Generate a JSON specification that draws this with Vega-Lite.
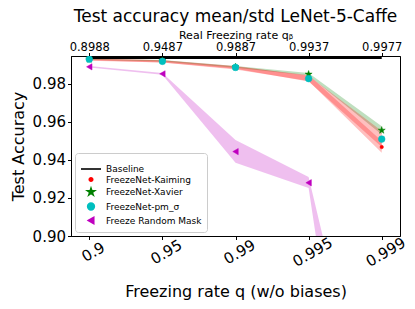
{
  "$schema": "https://vega.github.io/schema/vega-lite/v6.json",
  "width": 329,
  "height": 180,
  "autosize": {"type": "none"},
  "padding": {"left": 71, "top": 56, "right": 15, "bottom": 73},
  "background": "white",
  "title": {"text": "Test accuracy mean/std LeNet-5-Caffe", "fontSize": 17, "fontWeight": "normal", "font": "DejaVu Sans", "color": "black", "offset": 3, "anchor": "middle"},
  "config": {
    "font": "DejaVu Sans",
    "view": {"stroke": "black", "strokeWidth": 1},
    "axis": {"domainColor": "black", "tickColor": "black", "labelColor": "black", "titleColor": "black", "grid": false, "tickSize": 3.5, "titleFontWeight": "normal"},
    "legend": {"labelFont": "DejaVu Sans"}
  },
  "data": {"values": [
    {"series": "Baseline", "q": "0.9", "mean": 0.9937, "lo": 0.9937, "hi": 0.9937},
    {"series": "Baseline", "q": "0.95", "mean": 0.9937, "lo": 0.9937, "hi": 0.9937},
    {"series": "Baseline", "q": "0.99", "mean": 0.9937, "lo": 0.9937, "hi": 0.9937},
    {"series": "Baseline", "q": "0.995", "mean": 0.9937, "lo": 0.9937, "hi": 0.9937},
    {"series": "Baseline", "q": "0.999", "mean": 0.9937, "lo": 0.9937, "hi": 0.9937},
    {"series": "FreezeNet-Kaiming", "q": "0.9", "mean": 0.9927, "lo": 0.9922, "hi": 0.9932},
    {"series": "FreezeNet-Kaiming", "q": "0.95", "mean": 0.9919, "lo": 0.9913, "hi": 0.9925},
    {"series": "FreezeNet-Kaiming", "q": "0.99", "mean": 0.9884, "lo": 0.9876, "hi": 0.9892},
    {"series": "FreezeNet-Kaiming", "q": "0.995", "mean": 0.9831, "lo": 0.9815, "hi": 0.9847},
    {"series": "FreezeNet-Kaiming", "q": "0.999", "mean": 0.9468, "lo": 0.9438, "hi": 0.9500},
    {"series": "FreezeNet-Xavier", "q": "0.9", "mean": 0.9930, "lo": 0.9927, "hi": 0.9933},
    {"series": "FreezeNet-Xavier", "q": "0.95", "mean": 0.9922, "lo": 0.9918, "hi": 0.9926},
    {"series": "FreezeNet-Xavier", "q": "0.99", "mean": 0.9890, "lo": 0.9885, "hi": 0.9895},
    {"series": "FreezeNet-Xavier", "q": "0.995", "mean": 0.9851, "lo": 0.9844, "hi": 0.9858},
    {"series": "FreezeNet-Xavier", "q": "0.999", "mean": 0.9556, "lo": 0.9534, "hi": 0.9578},
    {"series": "FreezeNet-pm_σ", "q": "0.9", "mean": 0.9930, "lo": 0.9925, "hi": 0.9935},
    {"series": "FreezeNet-pm_σ", "q": "0.95", "mean": 0.9919, "lo": 0.9913, "hi": 0.9925},
    {"series": "FreezeNet-pm_σ", "q": "0.99", "mean": 0.9887, "lo": 0.9880, "hi": 0.9894},
    {"series": "FreezeNet-pm_σ", "q": "0.995", "mean": 0.9828, "lo": 0.9813, "hi": 0.9843},
    {"series": "FreezeNet-pm_σ", "q": "0.999", "mean": 0.9510, "lo": 0.9468, "hi": 0.9552},
    {"series": "Freeze Random Mask", "q": "0.9", "mean": 0.9890, "lo": 0.9886, "hi": 0.9894},
    {"series": "Freeze Random Mask", "q": "0.95", "mean": 0.9853, "lo": 0.9849, "hi": 0.9857},
    {"series": "Freeze Random Mask", "q": "0.99", "mean": 0.9444, "lo": 0.9385, "hi": 0.9505},
    {"series": "Freeze Random Mask", "q": "0.995", "mean": 0.9280, "lo": 0.9252, "hi": 0.9310},
    {"series": "Freeze Random Mask", "q": "0.999", "mean": 0.7200, "lo": 0.6700, "hi": 0.7700}
  ]},
  "layer": [
    {
      "transform": [{"filter": "datum.series !== 'Baseline'"}],
      "mark": {"type": "area", "opacity": 0.25, "clip": true},
      "encoding": {
        "x": {
          "field": "q", "type": "ordinal",
          "scale": {"type": "point", "domain": ["0.9", "0.95", "0.99", "0.995", "0.999"], "padding": 0.25},
          "axis": {"orient": "bottom", "title": "Freezing rate q (w/o biases)", "titleFontSize": 16, "titlePadding": 14, "labelFontSize": 15, "labelAngle": -30, "labelAlign": "center", "labelBaseline": "top", "labelPadding": 6, "labelDx": -8}
        },
        "y": {"field": "lo", "type": "quantitative", "scale": {"domain": [0.9, 0.9947], "nice": false, "zero": false},
              "axis": {"title": "Test Accuracy", "titleFontSize": 16, "labelFontSize": 15, "values": [0.90, 0.92, 0.94, 0.96, 0.98], "format": ".2f", "titlePadding": 6}},
        "y2": {"field": "hi"},
        "fill": {"field": "series", "type": "nominal",
                 "scale": {"domain": ["FreezeNet-Kaiming", "FreezeNet-Xavier", "FreezeNet-pm_σ", "Freeze Random Mask"], "range": ["#ff0000", "#008000", "#ff0000", "#bf00bf"]},
                 "legend": null},
        "detail": {"field": "series"}
      }
    },
    {
      "transform": [{"filter": "datum.series === 'Baseline'"}],
      "mark": {"type": "line", "color": "black", "strokeWidth": 2, "clip": true},
      "encoding": {
        "x": {"field": "q", "type": "ordinal", "axis": null},
        "y": {"field": "mean", "type": "quantitative"}
      }
    },
    {
      "transform": [{"filter": "datum.series === 'Baseline'"}],
      "mark": {"type": "point", "opacity": 0},
      "encoding": {
        "x": {"field": "q", "type": "ordinal",
              "axis": {"orient": "top", "title": "Real Freezing rate qᵦ", "titleFontSize": 11, "titlePadding": 1.5, "labelFontSize": 11.5, "labelAngle": 0, "labelPadding": 0,
                       "labelExpr": "datum.value === '0.9' ? '0.8988' : datum.value === '0.95' ? '0.9487' : datum.value === '0.99' ? '0.9887' : datum.value === '0.995' ? '0.9937' : '0.9977'"}},
        "y": {"field": "mean", "type": "quantitative"}
      }
    },
    {
      "transform": [{"filter": "datum.series !== 'Baseline'"}],
      "mark": {"type": "point", "filled": true, "opacity": 1, "clip": true, "strokeWidth": 0.5},
      "encoding": {
        "x": {"field": "q", "type": "ordinal", "axis": null},
        "y": {"field": "mean", "type": "quantitative"},
        "color": {"field": "series", "type": "nominal",
                  "scale": {"domain": ["Baseline", "FreezeNet-Kaiming", "FreezeNet-Xavier", "FreezeNet-pm_σ", "Freeze Random Mask"], "range": ["#000000", "#ff0000", "#008000", "#00bfbf", "#bf00bf"]},
                  "legend": {"title": null, "orient": "bottom-left", "offset": 4, "padding": 5, "fillColor": "white", "strokeColor": "#cccccc", "cornerRadius": 3, "labelFontSize": 9, "rowPadding": 0, "labelOffset": 4,
                             "symbolStrokeWidth": 1.6}},
        "stroke": {"field": "series", "type": "nominal",
                   "scale": {"domain": ["Baseline", "FreezeNet-Kaiming", "FreezeNet-Xavier", "FreezeNet-pm_σ", "Freeze Random Mask"], "range": ["#000000", "#ff0000", "#008000", "#00bfbf", "#bf00bf"]},
                   "legend": {"title": null}},
        "shape": {"field": "series", "type": "nominal",
                  "scale": {"domain": ["Baseline", "FreezeNet-Kaiming", "FreezeNet-Xavier", "FreezeNet-pm_σ", "Freeze Random Mask"], "range": ["stroke", "circle", "M0,-1L0.22,-0.31L0.95,-0.31L0.36,0.12L0.59,0.81L0,0.38L-0.59,0.81L-0.36,0.12L-0.95,-0.31L-0.22,-0.31Z", "circle", "triangle-left"]},
                  "legend": {"title": null}},
        "size": {"field": "series", "type": "nominal",
                 "scale": {"type": "ordinal", "domain": ["Baseline", "FreezeNet-Kaiming", "FreezeNet-Xavier", "FreezeNet-pm_σ", "Freeze Random Mask"], "range": [400, 12, 55, 45, 40]},
                 "legend": {"title": null}}
      }
    }
  ],
  "resolve": {"axis": {"x": "independent"}}
}
